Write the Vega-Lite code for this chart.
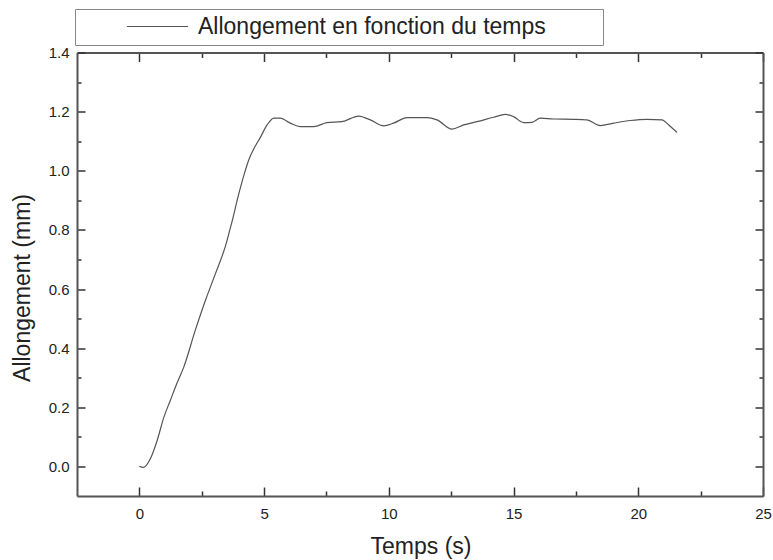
{
  "$schema": "https://vega.github.io/schema/vega-lite/v6.json",
  "width": 686,
  "height": 443.5,
  "autosize": {"type": "none"},
  "padding": {"left": 77, "top": 52.5, "right": 10, "bottom": 64},
  "background": "white",
  "config": {"view": {"stroke": null}, "font": "Liberation Sans"},
  "data": {"values": [
    {"t": 0, "a": 0}, {"t": 0.17, "a": -0.003}, {"t": 0.44, "a": 0.026}, {"t": 0.71, "a": 0.087},
    {"t": 0.98, "a": 0.166}, {"t": 1.24, "a": 0.223}, {"t": 1.51, "a": 0.282}, {"t": 1.78, "a": 0.336},
    {"t": 2.24, "a": 0.46}, {"t": 2.65, "a": 0.562}, {"t": 3.05, "a": 0.652}, {"t": 3.45, "a": 0.745},
    {"t": 3.72, "a": 0.83}, {"t": 3.98, "a": 0.92}, {"t": 4.2, "a": 0.988}, {"t": 4.4, "a": 1.04},
    {"t": 4.6, "a": 1.076}, {"t": 4.85, "a": 1.113}, {"t": 5.12, "a": 1.155}, {"t": 5.39, "a": 1.178}, {"t": 5.65, "a": 1.178},
    {"t": 6.05, "a": 1.161}, {"t": 6.45, "a": 1.149}, {"t": 6.99, "a": 1.149}, {"t": 7.52, "a": 1.163},
    {"t": 8.12, "a": 1.166}, {"t": 8.79, "a": 1.185}, {"t": 9.26, "a": 1.172}, {"t": 9.79, "a": 1.152},
    {"t": 10.19, "a": 1.161}, {"t": 10.73, "a": 1.18}, {"t": 11.53, "a": 1.18}, {"t": 11.93, "a": 1.172},
    {"t": 12.53, "a": 1.141}, {"t": 13.0, "a": 1.155}, {"t": 13.53, "a": 1.166}, {"t": 14.2, "a": 1.181},
    {"t": 14.67, "a": 1.191}, {"t": 15.0, "a": 1.183}, {"t": 15.4, "a": 1.163}, {"t": 15.74, "a": 1.164},
    {"t": 16.07, "a": 1.178}, {"t": 16.61, "a": 1.175}, {"t": 17.41, "a": 1.174}, {"t": 17.94, "a": 1.172},
    {"t": 18.48, "a": 1.153}, {"t": 19.01, "a": 1.161}, {"t": 19.68, "a": 1.17}, {"t": 20.35, "a": 1.174},
    {"t": 20.95, "a": 1.172}, {"t": 21.22, "a": 1.155}, {"t": 21.55, "a": 1.13}
  ]},
  "layer": [
    {
      "mark": {"type": "line", "interpolate": "monotone", "strokeWidth": 1.2},
      "encoding": {
        "x": {
          "field": "t", "type": "quantitative",
          "scale": {"domain": [-2.5, 25], "nice": false, "zero": false},
          "axis": {
            "orient": "bottom",
            "values": [0, 2.5, 5, 7.5, 10, 12.5, 15, 17.5, 20, 22.5, 25],
            "tickSize": {"condition": {"test": "datum.value % 5 === 0", "value": -9}, "value": -5},
            "labelExpr": "datum.value % 5 === 0 ? datum.label : ''",
            "format": "d", "grid": false,
            "domainColor": "#555", "domainWidth": 2, "tickColor": "#333", "tickWidth": 1.5,
            "labelFontSize": 15, "labelColor": "#222", "labelPadding": 19, "labelFlush": false,
            "title": "Temps (s)", "titleFontSize": 23, "titleFontWeight": "normal", "titleColor": "#222",
            "titleX": 343.5, "titleY": 57, "titleBaseline": "alphabetic", "titleAlign": "center"
          }
        },
        "y": {
          "field": "a", "type": "quantitative",
          "scale": {"domain": [-0.1, 1.4], "nice": false, "zero": false},
          "axis": {
            "orient": "left",
            "values": [0, 0.1, 0.2, 0.3, 0.4, 0.5, 0.6, 0.7, 0.8, 0.9, 1.0, 1.1, 1.2, 1.3, 1.4],
            "tickSize": {"condition": {"test": "round(datum.value*10) % 2 === 0", "value": -8}, "value": -4},
            "labelExpr": "round(datum.value*10) % 2 === 0 ? datum.label : ''",
            "format": ".1f", "grid": false,
            "domainColor": "#555", "domainWidth": 2, "tickColor": "#333", "tickWidth": 1.5,
            "labelFontSize": 15, "labelColor": "#222", "labelPadding": 16, "labelFlush": false,
            "title": "Allongement (mm)", "titleFontSize": 23, "titleFontWeight": "normal", "titleColor": "#222",
            "titleX": -48, "titleY": 235, "titleBaseline": "alphabetic", "titleAlign": "center", "titleAngle": -90
          }
        },
        "color": {
          "datum": "Allongement en fonction du temps",
          "scale": {"range": ["#555555"]},
          "legend": {
            "orient": "none", "legendX": -2, "legendY": -43.5, "title": null,
            "symbolType": "M-5.1,0H5.1", "symbolSize": 144, "symbolStrokeWidth": 1.2,
            "labelFontSize": 23, "labelColor": "#222", "labelOffset": 29, "labelLimit": 800,
            "strokeColor": "#888", "padding": 6, "symbolOffset": 65,
            "labelExpr": "datum.label + '\u2800\u2800\u2800'"
          }
        }
      }
    },
    {
      "mark": {"type": "line", "strokeOpacity": 0},
      "encoding": {
        "x": {
          "field": "t", "type": "quantitative",
          "scale": {"domain": [-2.5, 25], "nice": false, "zero": false},
          "axis": {
            "orient": "top",
            "values": [0, 2.5, 5, 7.5, 10, 12.5, 15, 17.5, 20, 22.5, 25],
            "tickSize": {"condition": {"test": "datum.value % 5 === 0", "value": -9}, "value": -5},
            "labels": false, "grid": false, "title": null,
            "domainColor": "#555", "domainWidth": 2, "tickColor": "#333", "tickWidth": 1.5
          }
        },
        "y": {
          "field": "a", "type": "quantitative",
          "scale": {"domain": [-0.1, 1.4], "nice": false, "zero": false},
          "axis": {
            "orient": "right",
            "values": [0, 0.1, 0.2, 0.3, 0.4, 0.5, 0.6, 0.7, 0.8, 0.9, 1.0, 1.1, 1.2, 1.3, 1.4],
            "tickSize": {"condition": {"test": "round(datum.value*10) % 2 === 0", "value": -8}, "value": -4},
            "labels": false, "grid": false, "title": null,
            "domainColor": "#555", "domainWidth": 2, "tickColor": "#333", "tickWidth": 1.5
          }
        }
      }
    }
  ],
  "resolve": {"scale": {"x": "independent", "y": "independent"}, "axis": {"x": "independent", "y": "independent"}}
}
